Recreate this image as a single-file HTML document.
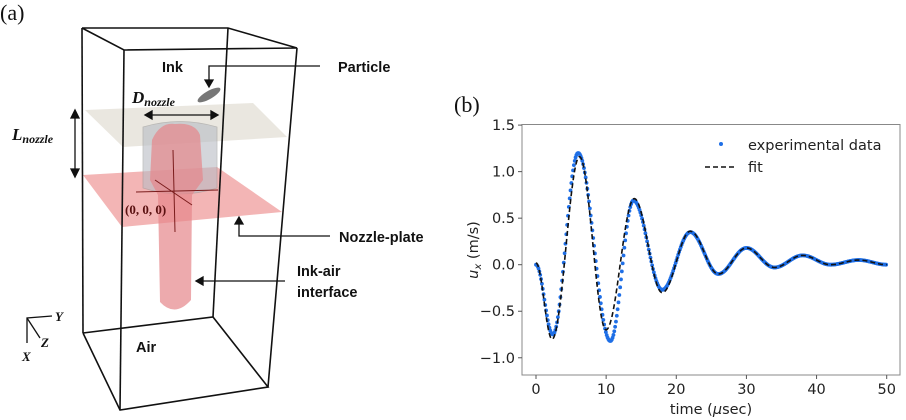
<!DOCTYPE html>
<html><head><meta charset="utf-8"><style>
html,body{margin:0;padding:0;background:#fff;}
svg{display:block;}
.lb{font-family:"Liberation Sans",sans-serif;font-weight:bold;font-size:14.5px;fill:#111;}
.tk{font-family:"DejaVu Sans","Liberation Sans",sans-serif;font-size:14.5px;fill:#222;}
</style></head><body>
<svg id="fig" width="906" height="420" viewBox="0 0 906 420">
<g>
<text x="0" y="20" font-family="Liberation Serif,serif" font-size="22" fill="#111">(a)</text>
<polygon points="85,110 253,103 287,137 123,147" fill="#e6e3da" opacity="0.85"/>
<polygon points="83,175 217,167 282,212 122,227" fill="#f0a3a3" opacity="0.8"/>
<path d="M143,127 Q180,116 217,127 L217,188 Q180,200 143,188 Z" fill="#b8bcc4" opacity="0.6" stroke="#999" stroke-width="0.8"/>
<path d="M152,140 Q160,122 175,124 Q195,122 200,135 L203,180 L192,195 L191,300 Q175,318 160,302 L158,195 L150,180 Z" fill="#e6868a" opacity="0.7"/>
<path d="M136,192 L218,190 M173,150 L175,232 M155,180 L192,205" stroke="#7a1c1c" stroke-width="1" fill="none"/>
<g stroke="#111" stroke-width="1.6" fill="none">
<polyline points="82,28 228,28 297,48 124,50 82,28"/>
<line x1="82" y1="28" x2="83" y2="333"/>
<line x1="124" y1="50" x2="120" y2="410"/>
<line x1="297" y1="48" x2="268" y2="387"/>
<line x1="228" y1="28" x2="213" y2="317"/>
<polyline points="83,333 213,317 268,387 120,410 83,333"/>
</g>
<ellipse cx="209" cy="95" rx="13" ry="4" transform="rotate(-30 209 95)" fill="#777"/>
<g stroke="#111" stroke-width="1.3" fill="none">
<polyline points="320,66 209,66 209,82"/><polygon points="205,80 213,80 209,87" fill="#111"/>
<polyline points="330,236 239,236 239,222"/><polygon points="235,224 243,224 239,217" fill="#111"/>
<line x1="285" y1="281" x2="202" y2="281"/><polygon points="203,277 203,285 196,281" fill="#111"/>
<line x1="75" y1="117" x2="75" y2="170"/><polygon points="71,118 79,118 75,110" fill="#111"/><polygon points="71,169 79,169 75,177" fill="#111"/>
<line x1="151" y1="115" x2="212" y2="115"/><polygon points="152,111 152,119 145,115" fill="#111"/><polygon points="211,111 211,119 218,115" fill="#111"/>
<polyline points="52,316 27,318 27,343"/><line x1="27" y1="318" x2="40" y2="338"/>
</g>
<text x="162" y="72" class="lb">Ink</text>
<text x="338" y="72" class="lb">Particle</text>
<text x="339" y="242" class="lb">Nozzle-plate</text>
<text x="297" y="276" class="lb">Ink-air</text>
<text x="297" y="297" class="lb">interface</text>
<text x="136" y="352" class="lb">Air</text>
<text x="132" y="103" font-family="Liberation Serif,serif" font-weight="bold" font-style="italic" font-size="17" fill="#111">D<tspan font-size="12" dy="3">nozzle</tspan></text>
<text x="12" y="140" font-family="Liberation Serif,serif" font-weight="bold" font-style="italic" font-size="17" fill="#111">L<tspan font-size="12" dy="3">nozzle</tspan></text>
<text x="125" y="214" font-family="Liberation Serif,serif" font-weight="bold" font-size="13" fill="#5a1010">(0, 0, 0)</text>
<text x="55" y="321" font-family="Liberation Serif,serif" font-weight="bold" font-style="italic" font-size="13" fill="#111">Y</text>
<text x="41" y="347" font-family="Liberation Serif,serif" font-weight="bold" font-style="italic" font-size="13" fill="#111">Z</text>
<text x="22" y="361" font-family="Liberation Serif,serif" font-weight="bold" font-style="italic" font-size="13" fill="#111">X</text>
</g>
<g id="pb">
<text x="454" y="112" font-family="Liberation Serif,serif" font-size="22" fill="#111">(b)</text>
<rect x="522" y="124.5" width="378" height="250.5" fill="none" stroke="#888" stroke-width="1"/>
<g id="marks"></g>
<g id="ticks"></g>
<text transform="translate(478,250) rotate(-90)" text-anchor="middle" class="tk"><tspan font-style="italic">u</tspan><tspan font-style="italic" font-size="10" dy="3">x</tspan><tspan dy="-3"> (m/s)</tspan></text>
<text x="711" y="414" text-anchor="middle" class="tk">time (<tspan font-style="italic">μ</tspan>sec)</text>
<circle cx="721" cy="144" r="2" fill="#1f6fe6"/>
<text x="748" y="150" class="tk">experimental data</text>
<line x1="705" y1="167" x2="735" y2="167" stroke="#111" stroke-width="1.6" stroke-dasharray="5,3"/>
<text x="748" y="172" class="tk">fit</text>
</g>
</svg>
<script>
const xTicks=[0,10,20,30,40,50];
const yTicks=[1.5,1.0,0.5,0.0,-0.5,-1.0];
const yTickLabels=["1.5","1.0","0.5","0.0","\u22120.5","\u22121.0"];
const fitT=[0,2.3,6.2,10.0,14.0,18.0,22.0,26.0,30.0,34.0,38.0,42.0,46.0,50];
const fitV=[0.02,-0.80,1.16,-0.70,0.71,-0.30,0.36,-0.10,0.18,-0.03,0.10,0.00,0.05,0.00];
const expT=[0,2.4,6.0,10.6,13.9,18.0,22.0,26.0,30.0,34.0,38.0,42.0,46.0,50];
const expV=[0.0,-0.75,1.20,-0.82,0.69,-0.27,0.35,-0.10,0.18,-0.03,0.10,0.00,0.05,0.00];
const NS="http://www.w3.org/2000/svg";
function X(t){return 536+t*(886.7-536)/50;}
function Y(v){return 264.7-v*93.07;}
function curve(T,V,t){for(let i=0;i<T.length-1;i++){if(t<=T[i+1]){const f=(t-T[i])/(T[i+1]-T[i]);const s=(1-Math.cos(Math.PI*f))/2;return V[i]+(V[i+1]-V[i])*s;}}return V[V.length-1];}
const marks=document.getElementById('marks');
for(let t=0;t<=50.001;t+=0.12){
 const c=document.createElementNS(NS,'circle');
 c.setAttribute('cx',X(t));c.setAttribute('cy',Y(curve(expT,expV,t)));c.setAttribute('r',1.9);c.setAttribute('fill','#1f6fe6');
 
 
 marks.appendChild(c);
}
let d='';for(let t=0;t<=50.001;t+=0.1){d+=(d?'L':'M')+X(t).toFixed(1)+','+Y(curve(fitT,fitV,t)).toFixed(1);}
const p=document.createElementNS(NS,'path');
p.setAttribute('d',d);p.setAttribute('fill','none');p.setAttribute('stroke','#111');p.setAttribute('stroke-width','1.6');p.setAttribute('stroke-dasharray','5,3');


marks.appendChild(p);
const tk=document.getElementById('ticks');
xTicks.forEach(v=>{
 const l=document.createElementNS(NS,'line');l.setAttribute('x1',X(v));l.setAttribute('x2',X(v));l.setAttribute('y1',375);l.setAttribute('y2',379);l.setAttribute('stroke','#555');
 
 
 tk.appendChild(l);
 const s=document.createElementNS(NS,'text');s.setAttribute('x',X(v));s.setAttribute('y',394);s.setAttribute('text-anchor','middle');s.setAttribute('class','tk');s.textContent=v;
 
 
 tk.appendChild(s);
});
yTicks.forEach((v,i)=>{
 const l=document.createElementNS(NS,'line');l.setAttribute('x1',518);l.setAttribute('x2',522);l.setAttribute('y1',Y(v));l.setAttribute('y2',Y(v));l.setAttribute('stroke','#555');
 
 
 tk.appendChild(l);
 const s=document.createElementNS(NS,'text');s.setAttribute('x',515);s.setAttribute('y',Y(v)+5);s.setAttribute('text-anchor','end');s.setAttribute('class','tk');s.textContent=yTickLabels[i];
 
 
 tk.appendChild(s);
});
</script>
</body></html>
